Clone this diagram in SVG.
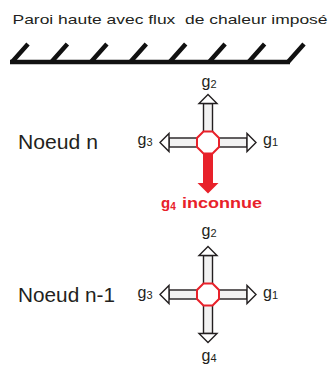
<svg xmlns="http://www.w3.org/2000/svg" width="333" height="367" viewBox="0 0 333 367">
<style>
text{font-family:"Liberation Sans",Arial,sans-serif;fill:#231f20}
.lbl{font-size:20px}
.g{font-size:16px}
.sub{font-size:11px}
.red{fill:#e8212a;font-weight:bold}
.wall{stroke:#111;stroke-width:4.5;fill:none}
.shaft{fill:#f2f2f2;stroke:#231f20;stroke-width:1.4}
.head{fill:#fff;stroke:#231f20;stroke-width:1.4;stroke-linejoin:miter}
.oct{fill:#fff;stroke:#e8212a;stroke-width:2}
</style>
<defs>
<g id="arrowUp">
<rect class="shaft" x="-4.5" y="-39" width="9" height="30"/>
<polygon class="head" points="0,-48 9,-39 -9,-39"/>
</g>
<polygon id="octagon" class="oct" points="-4.56,-11 4.56,-11 11,-4.56 11,4.56 4.56,11 -4.56,11 -11,4.56 -11,-4.56"/>
</defs>
<text x="12.5" y="24" font-size="13.5" textLength="315" lengthAdjust="spacingAndGlyphs" style="white-space:pre" xml:space="preserve">Paroi haute avec flux  de chaleur imposé</text>
<g id="wall">
<line class="wall" x1="10" y1="62" x2="290" y2="62"/>
<path class="wall" d="M12,62L28,44M51.4,62L67.4,44M90.9,62L106.9,44M130.3,62L146.3,44M169.7,62L185.7,44M209.1,62L225.1,44M248.6,62L264.6,44M288,62L304,44"/>
</g>
<g id="connectors">
<g transform="translate(208,142.5)">
<use href="#arrowUp"/>
<use href="#arrowUp" transform="rotate(90)"/>
<use href="#arrowUp" transform="rotate(-90)"/>
<rect x="-5" y="9" width="10" height="32" fill="#e8212a"/>
<polygon points="-10.5,40.5 10.5,40.5 0,51" fill="#e8212a"/>
</g>
<g transform="translate(208,294.5)">
<use href="#arrowUp"/>
<use href="#arrowUp" transform="rotate(90)"/>
<use href="#arrowUp" transform="rotate(-90)"/>
<use href="#arrowUp" transform="rotate(180)"/>
</g>
</g>
<g id="node-n">
<use href="#octagon" transform="translate(208,142.5)"/>
<text class="lbl" x="18" y="149" textLength="80" lengthAdjust="spacingAndGlyphs">Noeud n</text>
<text class="g" x="201.5" y="87">g<tspan class="sub" dy="1">2</tspan></text>
<text class="g" x="263" y="145">g<tspan class="sub" dy="1">1</tspan></text>
<text class="g" x="137.5" y="145">g<tspan class="sub" dy="1">3</tspan></text>
<text class="red" x="161" y="208" font-size="15">g<tspan font-size="10" dy="2">4</tspan></text>
<text class="red" x="182" y="208" font-size="15" textLength="80" lengthAdjust="spacingAndGlyphs">inconnue</text>
</g>
<g id="node-n-1">
<use href="#octagon" transform="translate(208,294.5)"/>
<text class="lbl" x="18" y="301.5" textLength="97" lengthAdjust="spacingAndGlyphs">Noeud n-1</text>
<text class="g" x="201.5" y="236">g<tspan class="sub" dy="1">2</tspan></text>
<text class="g" x="263" y="298">g<tspan class="sub" dy="1">1</tspan></text>
<text class="g" x="137.5" y="298">g<tspan class="sub" dy="1">3</tspan></text>
<text class="g" x="201.5" y="361">g<tspan class="sub" dy="1">4</tspan></text>
</g>
</svg>
